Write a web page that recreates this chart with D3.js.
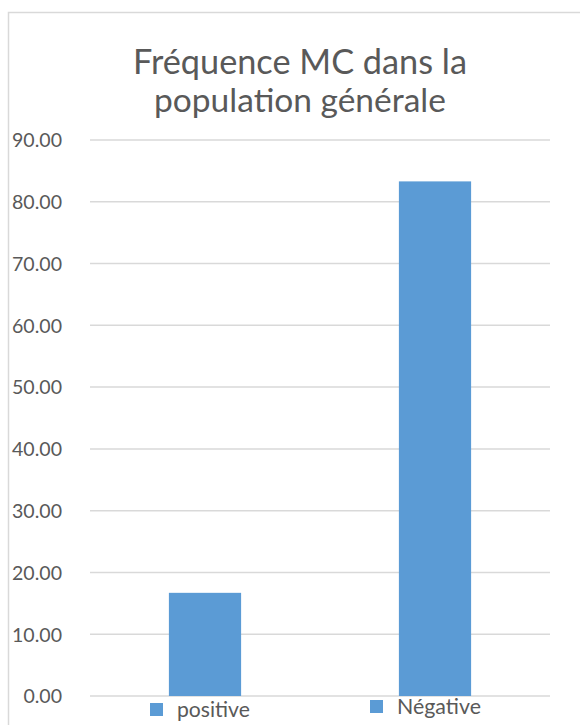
<!DOCTYPE html>
<html><head><meta charset="utf-8">
<script src="https://cdn.jsdelivr.net/npm/d3@7"></script>
<style>html,body{margin:0;padding:0;background:#fff;}svg{display:block;}</style>
</head><body>
<script>
const titleLines = ["Fréquence MC dans la", "population générale"];
const categories = ["positive", "Négative"];
const values = [16.7, 83.3];
const yTicks = [0, 10, 20, 30, 40, 50, 60, 70, 80, 90];

const W = 580, H = 725;
const FONT = "Lato, 'Open Sans', sans-serif";
const TXT = "#595959", GRID = "#d9d9d9", BAR = "#5b9bd5";

const svg = d3.select("body").append("svg").attr("width", W).attr("height", H);

// chart border
svg.append("rect").attr("x", 8.5).attr("y", 12.5).attr("width", W + 10).attr("height", H + 10)
  .attr("fill", "none").attr("stroke", GRID).attr("stroke-width", 1.5);

function fit(sel, target) {
  const w = sel.node().getComputedTextLength();
  const fs = parseFloat(sel.attr("font-size"));
  sel.attr("font-size", fs * target / w);
}

// title
const tBase = [74, 112];
const tWidths = [334, 292];
titleLines.forEach((t, i) => {
  const s = svg.append("text").attr("x", 300).attr("y", tBase[i]).attr("text-anchor", "middle")
    .attr("font-family", FONT).attr("font-size", 30).attr("fill", TXT).text(t);
  fit(s, tWidths[i]);
});

const m = {left: 90, right: 550, top: 140, bottom: 696};
const y = d3.scaleLinear().domain([0, 90]).range([m.bottom, m.top]);
const x = d3.scaleBand().domain(categories).range([m.left, m.right]).paddingInner(0.686).paddingOuter(0.343);

// gridlines
svg.append("g").selectAll("line").data(yTicks).join("line")
  .attr("x1", m.left).attr("x2", m.right)
  .attr("y1", d => y(d)).attr("y2", d => y(d))
  .attr("stroke", GRID).attr("stroke-width", 1.5);

// y axis labels
const yAxis = d3.axisLeft(y).tickValues(yTicks).tickFormat(d3.format(".2f")).tickSize(0).tickPadding(0);
const ga = svg.append("g").attr("transform", "translate(62,0)").call(yAxis);
ga.select(".domain").remove();
ga.selectAll("text").attr("font-family", FONT).attr("font-size", 19).attr("fill", TXT).attr("dy", "0.35em");
// fit label size
{
  const n = ga.selectAll("text").nodes()[9];
  const w = n.getComputedTextLength();
  ga.selectAll("text").attr("font-size", 19 * 50 / w);
}

// bars
svg.append("g").selectAll("rect").data(values).join("rect")
  .attr("x", (d, i) => x(categories[i]))
  .attr("width", x.bandwidth())
  .attr("y", d => y(d))
  .attr("height", d => y(0) - y(d))
  .attr("fill", BAR);

// legend
const legY = [703, 700];
const legX = [150, 370];
const legTextW = [73, 84];
categories.forEach((c, i) => {
  svg.append("rect").attr("x", legX[i]).attr("y", legY[i]).attr("width", 13).attr("height", 13).attr("fill", BAR);
  const s = svg.append("text").attr("x", legX[i] + 27).attr("y", legY[i] + 14)
    .attr("font-family", FONT).attr("font-size", 18).attr("fill", TXT).text(c);
  fit(s, legTextW[i]);
});
</script>
</body></html>
